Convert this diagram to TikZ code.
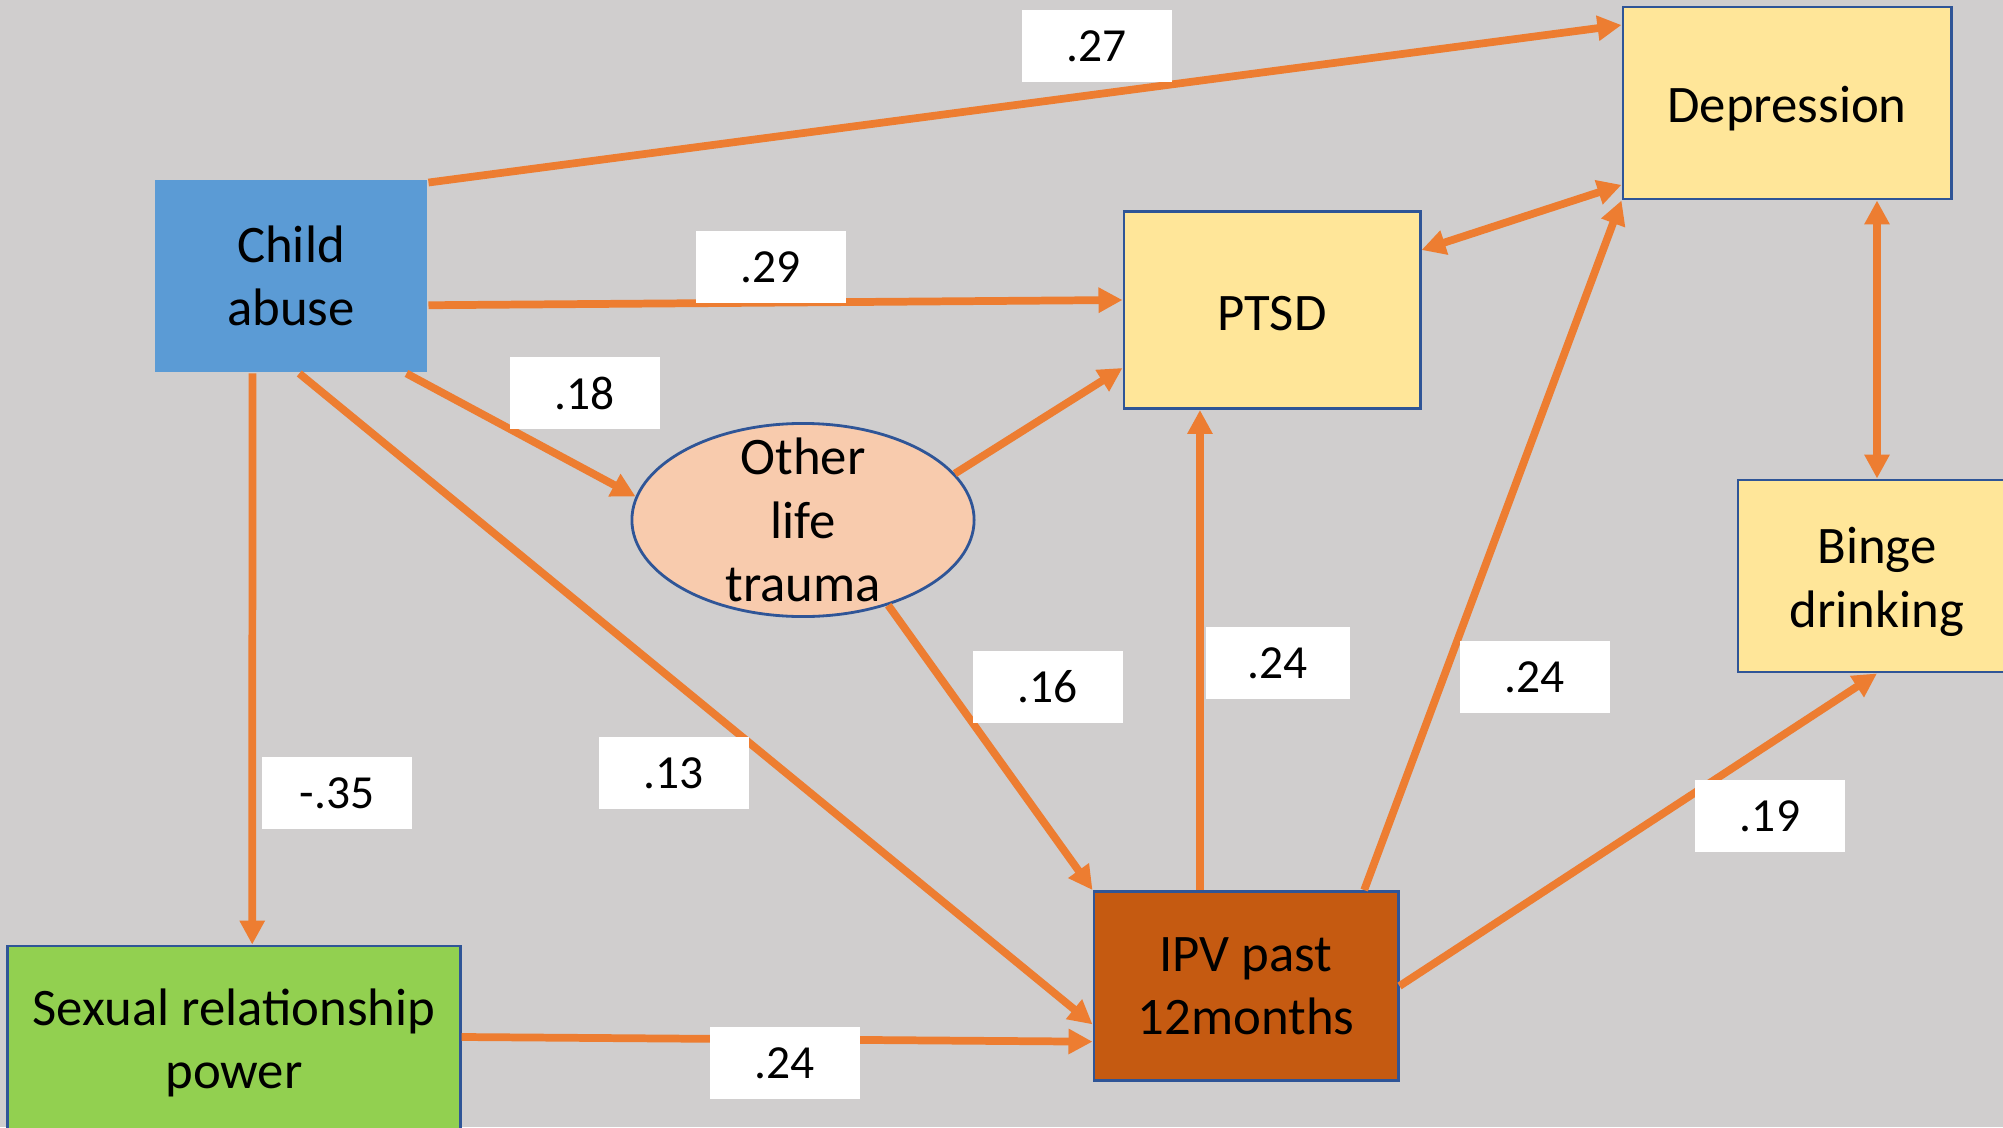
\documentclass[tikz,border=0pt]{standalone}
\usepackage{fontspec}
\setmainfont{Carlito}
\usetikzlibrary{arrows.meta,calc,shapes.geometric}

\definecolor{bggray}{HTML}{D0CECE}
\definecolor{arrorange}{HTML}{ED7D31}
\definecolor{boxblue}{HTML}{5B9BD5}
\definecolor{boxyellow}{HTML}{FFE699}
\definecolor{boxgreen}{HTML}{92D050}
\definecolor{boxrust}{HTML}{C55A11}
\definecolor{boxpeach}{HTML}{F8CBAD}
\definecolor{edgeblue}{HTML}{2F5597}

\tikzset{
  var/.style={rectangle, draw=edgeblue, line width=0.8pt, align=center, inner sep=0pt,
    font=\fontsize{15}{18}\selectfont},
  outcome/.style={var, fill=boxyellow},
  vartext/.style={align=center, inner sep=0pt, font=\fontsize{15}{18}\selectfont},
  coef/.style={fill=white, minimum width=1.5cm, minimum height=0.72cm, inner sep=0pt,
    font=\fontsize{13.5}{16}\selectfont},
  eff/.style={draw=arrorange, line width=2.2pt, -{Triangle[length=0.24cm,width=0.24cm]}},
  cov/.style={eff, {Triangle[length=0.24cm,width=0.24cm]}-{Triangle[length=0.24cm,width=0.24cm]}}
}

\begin{document}
\begin{tikzpicture}[x=0.01cm,y=-0.01cm]
			\useasboundingbox (0,0) rectangle (2003,1127);
			\clip (0,0) rectangle (2003,1127);
			\fill[bggray] (0,0) rectangle (2003,1127);
			
			% variables
			\node[var, draw=none, fill=boxblue, minimum width=2.72cm, minimum height=1.92cm] (abuse) at (291,276) {Child\\abuse};
			\node[outcome, minimum width=3.28cm, minimum height=1.92cm] (depr) at (1787,103) {};
			\node[vartext] (deprtext) at ([yshift=-0.06cm]depr.center) {Depression};
			\node[outcome, minimum width=2.96cm, minimum height=1.97cm] (ptsd) at (1272,310) {};
			\node[vartext] (ptsdtext) at ([yshift=-0.04cm]ptsd.center) {PTSD};
			\node[outcome, minimum width=2.78cm, minimum height=1.92cm] (binge) at (1877,576) {};
			\node[vartext] (bingetext) at ([yshift=-0.06cm]binge.center) {Binge\\drinking};
			\node[ellipse, draw=edgeblue, line width=0.8pt, fill=boxpeach, minimum width=3.42cm, minimum height=1.93cm, inner sep=0pt] (trauma) at (803,520) {};
			\node[vartext] (traumatext) at (trauma) {Other\\life\\trauma};
			\node[var, fill=boxrust, minimum width=3.04cm, minimum height=1.89cm] (ipv) at (1246,986) {IPV past\\12months};
			\node[var, fill=boxgreen, minimum width=4.52cm, minimum height=1.94cm] (srp) at (234,1043) {Sexual relationship\\power};
			
			% paths
			\draw[eff] ([yshift=-0.04cm]abuse.north east) -- ($(depr.north west)!0.1!(depr.south west)$);
			\draw[eff] ($(abuse.north east)!0.65!(abuse.south east)$) -- ($(ptsd.north west)!0.45!(ptsd.south west)$);
			\draw[eff] ($(abuse.south west)!0.92!(abuse.south east)$) -- (trauma.172);
			\draw[eff] ($(abuse.south west)!0.53!(abuse.south east)$) -- ($(ipv.north west)!0.7!(ipv.south west)$);
			\draw[eff] ($(abuse.south west)!0.36!(abuse.south east)$) -- ($(srp.north west)!0.54!(srp.north east)$);
			\draw[eff] (trauma.17) -- ($(ptsd.north west)!0.79!(ptsd.south west)$);
			\draw[eff] (trauma.-45) -- (ipv.north west);
			\coordinate (ipvtop) at ($(ipv.north west)!0.35!(ipv.north east)$);
			\draw[eff] (ipvtop) -- (ipvtop |- ptsd.south);
			\draw[eff] ($(ipv.north west)!0.885!(ipv.north east)$) -- (depr.south west);
			\draw[eff] (ipv.east) -- (binge.south);
			\draw[eff] ([yshift=0.06cm]srp.east) -- ($(ipv.north west)!0.79!(ipv.south west)$);
			\draw[cov] ($(ptsd.north east)!0.2!(ptsd.south east)$) -- ($(depr.north west)!0.92!(depr.south west)$);
			\draw[cov] (binge.north |- depr.south) -- (binge.north);
			
			% coefficients
			\node[coef] (c27) at (1097,46) {.27};
			\node[coef] (c29) at (771,267) {.29};
			\node[coef] (c18) at (585,393) {.18};
			\node[coef] (c16) at (1048,687) {.16};
			\node[coef, minimum width=1.44cm] (c24a) at (1278,663) {.24};
			\node[coef] (c24b) at (1535,677) {.24};
			\node[coef] (c13) at (674,773) {.13};
			\node[coef] (c35) at (337,793) {-.35};
			\node[coef] (c19) at (1770,816) {.19};
			\node[coef] (c24c) at (785,1063) {.24};
\end{tikzpicture}
\end{document}
